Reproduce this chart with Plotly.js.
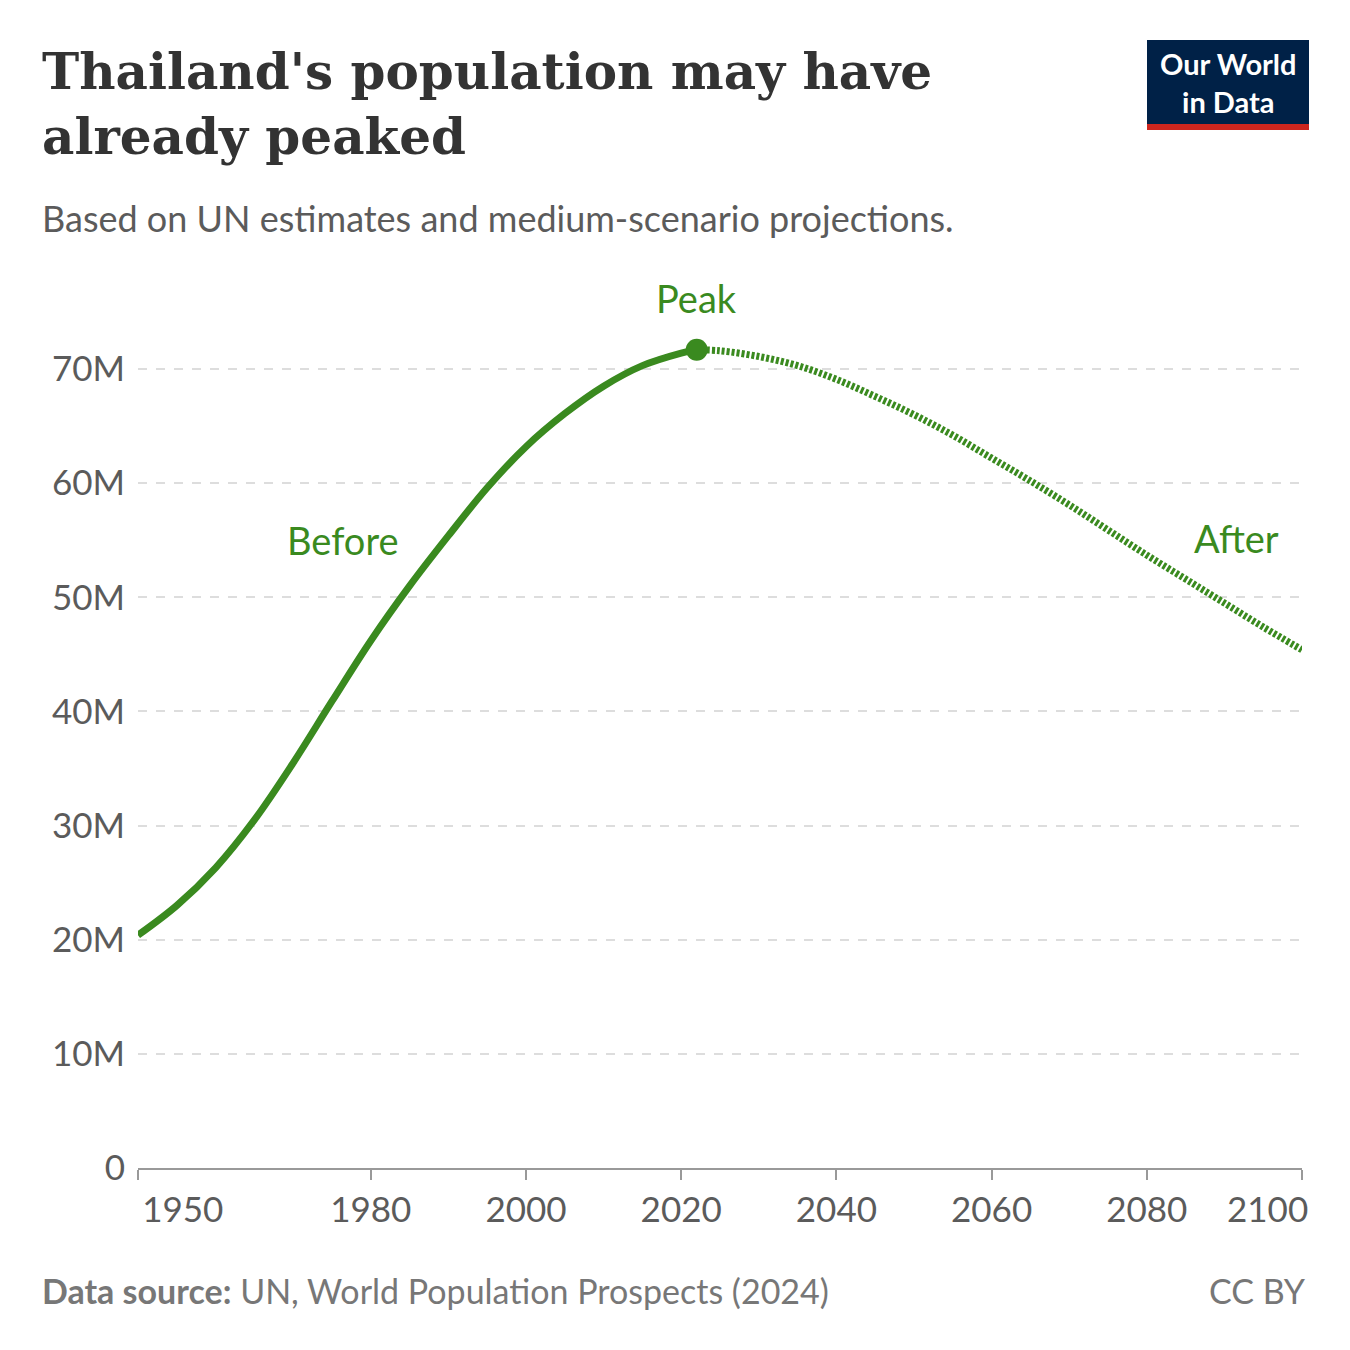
<!DOCTYPE html>
<html lang="en">
<head>
<meta charset="UTF-8" />
<script src="https://cdn.plot.ly/plotly-3.0.1.min.js"></script>
<style>
  html, body { margin: 0; padding: 0; background: #fff; }
  #chart { width: 1350px; height: 1350px; }
</style>
</head>
<body>
<div id="chart"></div>
<script>
  // Estimates (millions)
  const pastYears = [1950, 1955, 1960, 1965, 1970, 1975, 1980, 1985, 1990, 1995, 2000, 2005, 2010, 2015, 2020, 2022];
  const pastPop = [20.4, 23.0, 26.3, 30.5, 35.5, 40.9, 46.2, 51.0, 55.4, 59.6, 63.2, 66.1, 68.5, 70.3, 71.4, 71.7];
  const futureYears = [2022, 2025, 2030, 2035, 2040, 2045, 2050, 2055, 2060, 2065, 2070, 2075, 2080, 2085, 2090, 2095, 2100];
  const futurePop = [71.7, 71.6, 71.1, 70.3, 69.1, 67.6, 66.0, 64.2, 62.2, 60.2, 58.1, 55.9, 53.7, 51.6, 49.5, 47.4, 45.4];
  const tickYears = [1950, 1980, 2000, 2020, 2040, 2060, 2080, 2100];
  // first and last labels are drawn inward of their ticks, as in the source chart
  const tickLabels = ["\u00a0\u00a0\u00a0\u00a0\u00a0\u00a0\u00a0\u00a0\u00a0\u00a01950", "1980", "2000", "2020", "2040", "2060", "2080", ""];
  const lastTickLabel = "2100";
  const yTicks = [0, 10, 20, 30, 40, 50, 60, 70];
  const yLabels = ["0", "10M", "20M", "30M", "40M", "50M", "60M", "70M"];

  const green = "#3a8a1f";
  const grey = "#5b5b5b";
  const px = v => (v - 138) / 1164;   // page x -> paper
  const py = v => (1168 - v) / 856;   // page y -> paper

  const traces = [
    { x: pastYears, y: pastPop, type: "scatter", mode: "lines",
      line: { color: green, width: 7, shape: "spline" }, hoverinfo: "none" },
    { x: futureYears, y: futurePop, type: "scatter", mode: "lines",
      line: { color: green, width: 7, shape: "spline", dash: "3px,2px" }, hoverinfo: "none" },
    { x: [pastYears[pastYears.length - 1]], y: [pastPop[pastPop.length - 1]], type: "scatter", mode: "markers",
      marker: { color: green, size: 22 }, hoverinfo: "none" }
  ];

  const layout = {
    width: 1350, height: 1350,
    margin: { l: 138, r: 48, t: 312, b: 182 },
    paper_bgcolor: "#fff", plot_bgcolor: "#fff",
    showlegend: false,
    font: { family: "Lato, sans-serif", color: grey },
    xaxis: {
      range: [1950, 2100], tickvals: tickYears, ticktext: tickLabels,
      showgrid: false, zeroline: false, showline: true, linecolor: "#999", linewidth: 2,
      ticks: "outside", ticklen: 10, tickcolor: "#999", tickwidth: 2,
      tickfont: { size: 35, color: grey }
    },
    yaxis: {
      range: [0, 75], tickvals: yTicks, ticktext: yLabels,
      showgrid: true, gridcolor: "#dddddd", gridwidth: 2, griddash: "dash",
      zeroline: false, ticks: "", ticklabelstandoff: 12,
      tickfont: { size: 35, color: grey }
    },
    annotations: [
      { xref: "paper", yref: "paper", x: px(40), y: py(40), xanchor: "left", yanchor: "top", align: "left",
        text: "<b>Thailand's population may have<br>already peaked</b>", showarrow: false,
        font: { family: "DejaVu Serif, serif", size: 50, color: "#333" } },
      { xref: "paper", yref: "paper", x: px(40), y: py(218), xanchor: "left", yanchor: "middle",
        text: "Based on UN estimates and medium-scenario projections.", showarrow: false,
        font: { size: 36, color: grey } },
      { x: 2022, y: 71.7, yshift: 52, text: "Peak", showarrow: false, font: { size: 38, color: green } },
      { x: 1976.4, y: 55, text: "Before", showarrow: false, font: { size: 38, color: green } },
      { x: 2091.6, y: 55.2, text: "After", showarrow: false, font: { size: 38, color: green } },
      { x: 2100, xanchor: "right", xshift: 8, yref: "paper", y: py(1208), yanchor: "middle",
        text: lastTickLabel, showarrow: false, font: { size: 35, color: grey } },
      { xref: "paper", yref: "paper", x: px(40), y: py(1290), xanchor: "left", yanchor: "middle",
        text: "<b>Data source:</b> UN, World Population Prospects (2024)", showarrow: false,
        font: { size: 34, color: "#777" } },
      { xref: "paper", yref: "paper", x: px(1308), y: py(1290), xanchor: "right", yanchor: "middle",
        text: "CC BY", showarrow: false, font: { size: 34, color: "#777" } },
      { xref: "paper", yref: "paper", x: px(1228), y: py(82), xanchor: "center", yanchor: "middle", align: "center",
        text: "<b>Our World<br>in Data</b>", showarrow: false,
        font: { size: 29, color: "#fff" } }
    ],
    shapes: [
      { type: "rect", xref: "paper", yref: "paper",
        x0: px(1147), x1: px(1309), y0: py(124), y1: py(40),
        fillcolor: "#002147", line: { width: 0 } },
      { type: "rect", xref: "paper", yref: "paper",
        x0: px(1147), x1: px(1309), y0: py(130), y1: py(124),
        fillcolor: "#ce261e", line: { width: 0 } }
    ]
  };

  Plotly.newPlot("chart", traces, layout, { displayModeBar: false, staticPlot: true });
</script>
</body>
</html>
